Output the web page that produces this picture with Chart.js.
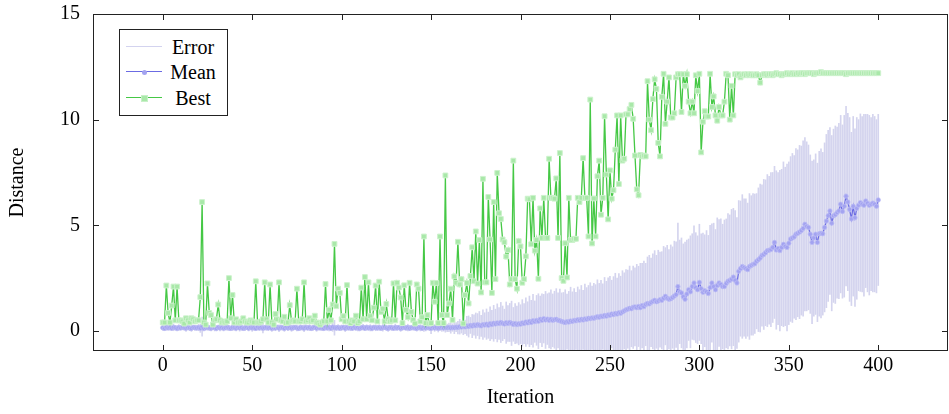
<!DOCTYPE html>
<html>
<head>
<meta charset="utf-8">
<script src="https://cdn.jsdelivr.net/npm/chart.js@4.4.1/dist/chart.umd.min.js"></script>
<style>
  html, body { margin: 0; padding: 0; background: #fff; }
  #wrap { position: relative; width: 949px; height: 414px; }
  #legend {
    position: absolute; left: 119px; top: 29px; width: 107px; height: 85px;
    border: 1px solid #222; background: #fff;
    font-family: "Liberation Serif", "Times New Roman", "DejaVu Serif", serif; font-size: 20px; color: #000;
  }
  .row { position: absolute; left: 0; width: 107px; height: 24px; line-height: 24px; }
  .sw { position: absolute; left: 6px; top: 11px; width: 36px; height: 1.4px; }
  .mk { position: absolute; }
  .lbl { position: absolute; left: 46px; width: 54px; text-align: center; top: 0; }
</style>
</head>
<body>
<div id="wrap">
  <canvas id="chart" width="949" height="414"></canvas>
  <div id="legend">
    <div class="row" style="top:5px">
      <div class="sw" style="background:#d3d3ef"></div>
      <span class="lbl">Error</span>
    </div>
    <div class="row" style="top:30px">
      <div class="sw" style="background:#6b6be3"></div>
      <div class="mk" style="left:21.5px;top:9.5px;width:5px;height:5px;border-radius:50%;background:#a3a3f0"></div>
      <span class="lbl">Mean</span>
    </div>
    <div class="row" style="top:56px">
      <div class="sw" style="background:#45c845"></div>
      <div class="mk" style="left:21px;top:9px;width:5px;height:5px;background:#a9e8a9;border:0.5px solid #c8f0c8"></div>
      <span class="lbl">Best</span>
    </div>
  </div>
</div>
<script>
// ---- data ----
const iterations = [...Array(401).keys()];   // 0 .. 400
const xTicks = [0, 50, 100, 150, 200, 250, 300, 350, 400];
const yTicks = [0, 5, 10, 15];

const bestValues = [
  0.4,0.4,2.15,0.85,0.4,1.2,2.1,0.5,2.1,0.5,0.5,0.45,0.35,0.6,0.5,0.4,0.6,0.55,0.45,0.5,
  0.5,1.6,6.1,0.4,0.3,2.25,0.85,0.75,0.3,0.5,0.55,1.25,0.5,0.4,0.45,0.4,0.45,2.5,0.6,1.7,
  0.4,0.55,0.4,0.4,0.45,0.6,0.45,0.4,0.4,0.5,0.45,0.4,2.35,0.4,0.4,0.45,0.55,2.3,0.55,0.4,
  2.2,0.4,0.3,0.8,0.55,2.3,0.5,0.45,0.67,0.37,0.4,1.22,0.45,0.5,0.45,2.0,0.45,0.45,0.55,2.3,
  0.45,0.5,0.6,0.45,0.5,0.72,0.4,0.37,0.3,0.4,0.45,2.22,0.45,1.0,0.5,1.25,4.12,1.17,2.0,1.8,
  0.55,0.7,0.45,2.17,0.45,0.37,0.5,0.45,0.72,0.37,0.45,2.05,0.55,2.55,0.55,2.3,0.7,0.5,1.1,2.15,
  0.45,2.33,0.9,1.05,0.45,1.28,0.55,0.45,0.5,2.25,0.5,2.28,2.05,1.58,0.37,2.16,1.0,0.65,2.28,0.9,
  0.52,0.35,2.2,2.0,0.45,0.65,4.47,0.37,0.75,0.35,0.37,2.28,1.38,2.27,0.37,4.47,0.75,0.37,7.36,0.75,
  1.3,2.0,0.52,2.58,2.28,4.22,2.2,2.45,0.35,1.7,2.27,1.3,2.6,3.96,2.35,4.71,2.24,4.3,1.82,7.2,
  2.3,2.3,6.34,4.33,1.8,6.1,2.45,7.48,5.57,5.3,4.33,4.2,3.52,3.83,2.2,2.45,8.06,2.45,2.0,4.25,
  4.0,2.28,2.45,3.53,6.26,6.23,4.1,6.3,3.8,4.3,2.47,5.8,4.4,6.3,4.4,4.4,8.15,6.3,6.3,6.26,
  7.22,4.4,8.42,2.5,2.37,4.15,2.53,6.3,4.3,4.3,4.36,4.36,6.3,6.1,6.3,8.18,6.3,6.3,4.47,10.95,
  4.14,6.27,4.47,7.32,8.06,5.5,6.3,10.16,7.4,5.28,7.6,6.26,6.66,8.58,10.2,6.95,10.2,8.06,8.15,10.25,
  10.25,10.5,10.7,10.04,8.3,6.7,6.42,8.33,8.26,8.3,8.26,11.82,10.0,9.5,10.97,11.91,11.45,8.9,8.26,11.08,
  12.17,9.8,10.85,12.0,10.1,10.1,10.3,12.0,12.15,12.15,10.36,12.15,11.6,12.15,10.85,10.3,10.85,10.3,12.1,11.35,
  12.17,8.45,9.9,10.4,10.15,10.15,12.17,10.6,11.1,10.2,9.95,10.6,10.2,10.2,10.85,12.17,12.1,10.0,11.6,10.2,
  12.15,12.1,12.15,12.0,12.1,12.15,12.1,12.15,12.1,12.15,12.1,12.1,12.15,12.1,11.75,12.1,12.15,12.15,12.1,12.15,
  12.15,12.1,12.15,12.2,12.15,12.15,12.1,12.15,12.15,12.2,12.15,12.15,12.2,12.15,12.15,12.2,12.15,12.2,12.2,12.15,
  12.2,12.2,12.2,12.2,12.15,12.2,12.2,12.2,12.25,12.2,12.2,12.2,12.2,12.2,12.2,12.2,12.2,12.2,12.2,12.2,
  12.2,12.2,12.15,12.2,12.2,12.2,12.2,12.2,12.2,12.2,12.2,12.2,12.2,12.2,12.2,12.2,12.2,12.2,12.2,12.2,
  12.2
];

const meanValues = [
  0.15,0.12,0.18,0.14,0.16,0.13,0.17,0.15,0.12,0.16,0.14,0.18,0.15,0.13,0.16,0.14,0.12,0.17,0.15,0.14,
  0.16,0.13,0.2,0.12,0.15,0.17,0.14,0.13,0.16,0.15,0.12,0.17,0.14,0.16,0.13,0.15,0.18,0.14,0.12,0.16,
  0.15,0.13,0.17,0.14,0.16,0.12,0.15,0.17,0.13,0.16,0.14,0.15,0.12,0.18,0.14,0.16,0.13,0.15,0.17,0.14,
  0.16,0.12,0.15,0.14,0.17,0.13,0.16,0.15,0.12,0.18,0.14,0.16,0.13,0.15,0.17,0.14,0.12,0.16,0.15,0.13,
  0.17,0.14,0.16,0.12,0.15,0.18,0.13,0.16,0.14,0.15,0.12,0.17,0.14,0.16,0.13,0.18,0.15,0.14,0.16,0.13,
  0.15,0.17,0.12,0.16,0.14,0.15,0.13,0.18,0.14,0.16,0.12,0.15,0.17,0.13,0.16,0.14,0.15,0.12,0.17,0.15,
  0.14,0.16,0.13,0.15,0.18,0.14,0.12,0.16,0.15,0.13,0.17,0.14,0.16,0.12,0.15,0.18,0.14,0.16,0.13,0.15,
  0.17,0.14,0.12,0.16,0.15,0.13,0.18,0.14,0.16,0.15,0.12,0.17,0.14,0.16,0.13,0.15,0.18,0.14,0.16,0.15,
  0.17,0.14,0.16,0.15,0.18,0.16,0.2,0.18,0.22,0.19,0.24,0.21,0.26,0.23,0.28,0.25,0.3,0.27,0.24,0.3,
  0.28,0.32,0.27,0.34,0.3,0.36,0.33,0.38,0.35,0.4,0.36,0.33,0.39,0.35,0.4,0.36,0.31,0.35,0.3,0.34,
  0.32,0.38,0.35,0.42,0.38,0.45,0.4,0.48,0.44,0.5,0.46,0.55,0.5,0.58,0.52,0.56,0.5,0.55,0.5,0.53,
  0.55,0.5,0.48,0.45,0.42,0.4,0.44,0.42,0.47,0.45,0.5,0.48,0.53,0.5,0.55,0.52,0.57,0.55,0.6,0.58,
  0.62,0.6,0.64,0.67,0.65,0.7,0.68,0.73,0.7,0.76,0.74,0.8,0.77,0.83,0.8,0.86,0.84,0.9,0.95,1.0,
  1.03,1.07,1.05,1.12,1.14,1.1,1.16,1.1,1.2,1.15,1.25,1.3,1.28,1.35,1.4,1.45,1.38,1.42,1.48,1.45,
  1.55,1.64,1.55,1.5,1.52,1.58,1.65,1.72,2.1,1.85,1.8,1.62,1.5,1.75,1.95,1.85,2.1,2.27,2.05,1.95,
  2.3,2.0,1.83,1.9,1.85,1.77,2.05,2.27,2.1,1.95,2.15,2.27,2.2,2.1,2.1,2.25,2.35,2.39,2.45,2.55,
  2.4,2.27,2.82,2.95,3.05,3.0,2.95,2.9,3.05,3.1,3.15,3.18,3.3,3.37,3.45,3.57,3.62,3.7,3.8,3.82,
  3.85,3.95,4.19,3.83,3.9,3.8,3.95,4.1,4.0,3.95,4.15,4.35,4.4,4.45,4.58,4.62,4.68,4.75,4.85,5.05,
  4.95,4.9,4.58,4.19,4.4,4.58,4.19,4.6,4.62,4.6,4.9,5.2,5.45,5.68,5.1,5.45,5.5,5.6,5.68,6.0,
  5.65,5.9,6.38,6.1,5.75,5.3,5.9,5.36,5.8,5.95,6.07,6.0,5.95,6.15,6.05,5.95,6.0,6.05,6.0,5.9,
  6.2
];

// half-width of the error bar around the mean
const errorValues = [
  0.12,0.1,0.15,0.09,0.13,0.11,0.16,0.1,0.12,0.14,0.09,0.13,0.11,0.15,0.1,0.12,0.14,0.1,0.13,0.11,
  0.15,0.2,0.45,0.12,0.1,0.14,0.11,0.13,0.1,0.15,0.12,0.09,0.14,0.11,0.13,0.1,0.16,0.12,0.1,0.14,
  0.11,0.13,0.1,0.15,0.12,0.09,0.14,0.11,0.13,0.1,0.16,0.12,0.1,0.14,0.11,0.13,0.22,0.1,0.15,0.12,
  0.09,0.14,0.11,0.13,0.1,0.16,0.12,0.1,0.14,0.11,0.13,0.1,0.15,0.12,0.09,0.14,0.11,0.13,0.1,0.16,
  0.12,0.1,0.14,0.11,0.13,0.1,0.15,0.12,0.09,0.14,0.11,0.13,0.1,0.16,0.12,0.2,0.35,0.12,0.14,0.11,
  0.13,0.1,0.15,0.12,0.09,0.14,0.11,0.13,0.1,0.16,0.12,0.1,0.14,0.11,0.13,0.1,0.15,0.12,0.09,0.14,
  0.11,0.13,0.1,0.16,0.12,0.1,0.14,0.11,0.13,0.1,0.15,0.12,0.09,0.14,0.11,0.13,0.1,0.16,0.12,0.1,
  0.14,0.11,0.13,0.1,0.15,0.12,0.2,0.14,0.11,0.13,0.25,0.12,0.16,0.14,0.18,0.13,0.2,0.15,0.22,0.18,
  0.2,0.25,0.18,0.28,0.22,0.3,0.35,0.28,0.4,0.32,0.45,0.5,0.38,0.55,0.48,0.6,0.52,0.65,0.5,0.7,
  0.58,0.72,0.62,0.8,0.68,0.85,0.7,0.9,0.75,0.95,0.82,0.7,0.98,0.85,0.9,1.05,0.8,0.95,0.88,1.0,
  0.92,1.1,0.95,1.15,1.0,1.2,1.05,1.25,0.98,1.18,1.3,1.1,1.25,1.15,1.35,1.2,1.3,1.4,1.25,1.35,
  1.45,1.3,1.5,1.35,1.4,1.55,1.3,1.45,1.6,1.4,1.5,1.35,1.55,1.45,1.6,1.4,1.65,1.5,1.55,1.7,
  1.5,1.65,1.55,1.75,1.6,1.7,1.55,1.8,1.65,1.75,1.85,1.6,1.8,1.9,1.7,1.85,1.75,1.95,1.8,1.9,
  1.85,2.0,1.8,1.95,1.85,2.05,1.9,2.1,2.0,2.15,1.95,2.2,2.3,2.1,2.25,2.35,2.2,2.4,2.25,2.3,
  2.45,2.3,2.5,2.35,2.55,2.4,2.6,2.5,3.0,2.45,2.6,2.5,2.7,2.55,2.4,2.65,2.5,2.7,2.6,2.55,
  2.75,2.6,2.8,2.65,2.9,2.75,2.95,2.8,3.0,2.85,3.2,3.0,3.1,2.95,3.15,3.05,3.2,3.1,3.3,3.25,
  3.3,3.1,3.35,3.2,3.4,3.25,3.3,3.15,3.45,3.3,3.35,3.3,3.2,3.4,3.5,3.35,3.55,3.45,3.6,3.5,
  3.65,3.55,3.6,3.75,3.6,3.8,3.7,3.9,3.75,3.95,3.85,3.9,4.0,3.85,4.05,3.95,4.1,4.0,4.15,4.1,
  4.0,3.9,3.75,3.85,3.7,3.8,3.75,3.9,4.0,3.85,4.0,4.1,4.05,3.95,4.15,4.1,4.2,4.05,4.15,4.2,
  4.1,4.3,4.25,4.2,4.35,4.1,4.25,4.2,4.3,4.05,4.2,4.15,4.3,4.1,4.2,4.25,4.1,4.2,4.15,4.1,
  4.05
];

// ---- chart ----
Chart.defaults.font.family = '"Liberation Serif", "Times New Roman", "DejaVu Serif", serif';
Chart.defaults.font.size = 20;
Chart.defaults.color = '#000';

// axis box with inward tick marks, pgfplots style
const frame = {
  id: 'frame',
  afterDraw(chart) {
    const { ctx, chartArea: a, scales: { x, y } } = chart;
    ctx.save();
    ctx.strokeStyle = '#222';
    ctx.lineWidth = 1;
    ctx.strokeRect(a.left + 0.5, a.top + 0.5, a.right - a.left - 1, a.bottom - a.top - 1);
    ctx.beginPath();
    xTicks.forEach(v => {
      const px = Math.round(x.getPixelForValue(v)) + 0.5;
      ctx.moveTo(px, a.bottom); ctx.lineTo(px, a.bottom - 6);
      ctx.moveTo(px, a.top); ctx.lineTo(px, a.top + 6);
    });
    yTicks.forEach(v => {
      const py = Math.round(y.getPixelForValue(v)) + 0.5;
      ctx.moveTo(a.left, py); ctx.lineTo(a.left + 6, py);
      ctx.moveTo(a.right, py); ctx.lineTo(a.right - 6, py);
    });
    ctx.stroke();
    ctx.restore();
  }
};

new Chart(document.getElementById('chart').getContext('2d'), {
  type: 'line',
  data: {
    datasets: [
      {
        type: 'bar',
        label: 'Error',
        data: iterations.map(i => ({ x: i, y: [meanValues[i] - errorValues[i], meanValues[i] + errorValues[i]] })),
        backgroundColor: '#d4d4ee',
        borderWidth: 0,
        barThickness: 1,
        grouped: false,
        order: 3
      },
      {
        label: 'Mean',
        data: iterations.map(i => ({ x: i, y: meanValues[i] })),
        borderColor: '#6b6be3',
        borderWidth: 1.2,
        pointStyle: 'circle',
        pointRadius: 2.2,
        pointBackgroundColor: '#a3a3f0',
        pointBorderColor: '#bcbcf5',
        pointBorderWidth: 0.8,
        order: 2
      },
      {
        label: 'Best',
        data: iterations.map(i => ({ x: i, y: bestValues[i] })),
        borderColor: '#45c845',
        borderWidth: 1.3,
        pointStyle: 'rect',
        pointRadius: 3.4,
        pointBackgroundColor: '#a9e8a9',
        pointBorderColor: '#cdf2cd',
        pointBorderWidth: 1,
        order: 1
      }
    ]
  },
  options: {
    responsive: false,
    animation: false,
    layout: { autoPadding: false, padding: { top: 14, right: 1, left: 0, bottom: 0 } },
    plugins: { legend: { display: false }, tooltip: { enabled: false } },
    scales: {
      x: {
        type: 'linear',
        min: -39, max: 439,
        offset: false,
        grid: { display: false, drawTicks: true, tickLength: 2 },
        border: { display: false },
        afterBuildTicks: s => { s.ticks = xTicks.map(v => ({ value: v })); },
        afterFit: s => { s.height = 63; },
        ticks: { padding: 1, maxRotation: 0, autoSkip: false, callback: v => v },
        title: { display: true, text: 'Iteration', padding: { top: 0, bottom: 4 } }
      },
      y: {
        min: -0.95, max: 15,
        grid: { display: false, drawTicks: true, tickLength: 12 },
        border: { display: false },
        afterBuildTicks: s => { s.ticks = yTicks.map(v => ({ value: v })); },
        afterFit: s => { s.width = 93; },
        ticks: { padding: 1, callback: v => v },
        title: { display: true, text: 'Distance', padding: { top: 6, bottom: 0 } }
      }
    }
  },
  plugins: [frame]
});
</script>
</body>
</html>
